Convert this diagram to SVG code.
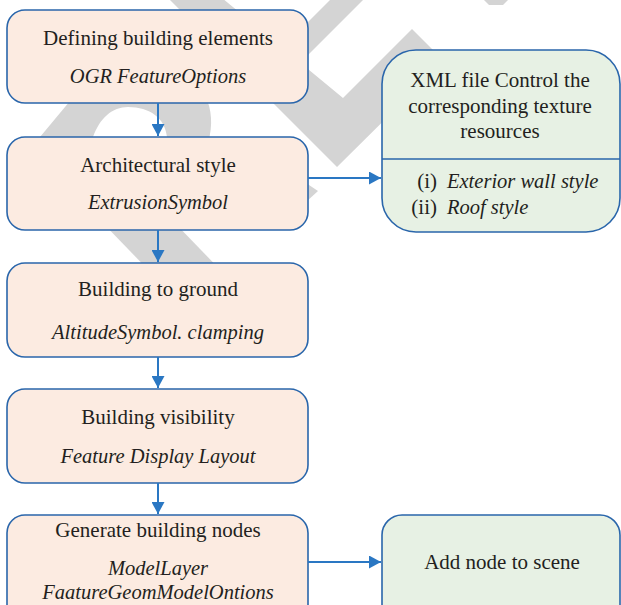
<svg xmlns="http://www.w3.org/2000/svg" width="621" height="605" viewBox="0 0 621 605">
<defs>
<style>
.wm{fill:#d4d4d4;stroke:none}
.p{fill:#fcebe1;stroke:#2a66ab;stroke-width:1.6}
.g{fill:#e7f1e4;stroke:#2a66ab;stroke-width:1.6}
.t{font-family:"Liberation Serif","Times New Roman",serif;font-size:21px;fill:#231f20;text-anchor:middle}
.i{font-style:italic;font-size:20.5px}
.s{text-anchor:start}
.e{text-anchor:end}
.c{stroke:#2a77c3;stroke-width:2;fill:none;marker-end:url(#ah)}
</style>
<marker id="ah" markerUnits="userSpaceOnUse" markerWidth="13" markerHeight="13" refX="12" refY="6.5" orient="auto">
<path d="M0,0 L12,6.5 L0,13 Z" fill="#2a77c3"/>
</marker>
</defs>
<g id="watermark">
<polygon class="wm" points="168,-2 222,-2 343,98 412,29 444,61 337,167"/>
<polygon class="wm" points="335,-5 368,-5 300,63 267,63"/>
<path class="wm" fill-rule="evenodd" d="M35,143 L75,95 L205,95 C212,110 213,125 208,143 Z M93,143 L93,137 C100,118 112,107 128,107 C150,107 165,118 167,137 L167,143 Z"/>
<polygon class="wm" points="100,220 172,220 230,280 158,280"/>
<polygon class="wm" points="306,183 318,191 306,202"/>
<polygon class="wm" points="484,0 508,0 503,5 489,5"/>
</g>
<g id="n1">
<rect class="p" x="7" y="10" width="301" height="93" rx="18"/>
<text class="t" x="158" y="45">Defining building elements</text>
<text class="t i" x="158" y="83">OGR FeatureOptions</text>
</g>
<g id="n2">
<rect class="p" x="7" y="137" width="301" height="93" rx="18"/>
<text class="t" x="158" y="172">Architectural style</text>
<text class="t i" x="158" y="209">ExtrusionSymbol</text>
</g>
<g id="n3">
<rect class="p" x="7" y="263" width="301" height="94" rx="18"/>
<text class="t" x="158" y="296">Building to ground</text>
<text class="t i" x="158" y="339">AltitudeSymbol. clamping</text>
</g>
<g id="n4">
<rect class="p" x="7" y="389" width="301" height="94" rx="18"/>
<text class="t" x="158" y="424">Building visibility</text>
<text class="t i" x="158" y="463">Feature Display Layout</text>
</g>
<g id="n5">
<rect class="p" x="7" y="515" width="301" height="110" rx="18"/>
<text class="t" x="158" y="537">Generate building nodes</text>
<text class="t i" x="158" y="575">ModelLayer</text>
<text class="t i" x="158" y="599">FaatureGeomModelOntions</text>
</g>
<g id="n6">
<rect class="g" x="382" y="50" width="238" height="182" rx="34"/>
<line x1="382" y1="159" x2="620" y2="159" stroke="#2a66ab" stroke-width="1.6"/>
<text class="t" x="500" y="87">XML file Control the</text>
<text class="t" x="500" y="113">corresponding texture</text>
<text class="t" x="500" y="138">resources</text>
<text class="t e" x="437" y="188">(i)</text>
<text class="t i s" x="447" y="188">Exterior wall style</text>
<text class="t e" x="437" y="214">(ii)</text>
<text class="t i s" x="447" y="214">Roof style</text>
</g>
<g id="n7">
<rect class="g" x="382" y="515" width="238" height="110" rx="20"/>
<text class="t" x="502" y="569">Add node to scene</text>
</g>
<g id="connectors">
<line class="c" x1="158" y1="103" x2="158" y2="136"/>
<line class="c" x1="158" y1="230" x2="158" y2="262"/>
<line class="c" x1="158" y1="357" x2="158" y2="388"/>
<line class="c" x1="158" y1="483" x2="158" y2="514"/>
<line class="c" x1="308" y1="178" x2="381" y2="178"/>
<line class="c" x1="308" y1="562" x2="381" y2="562"/>
</g>
</svg>
